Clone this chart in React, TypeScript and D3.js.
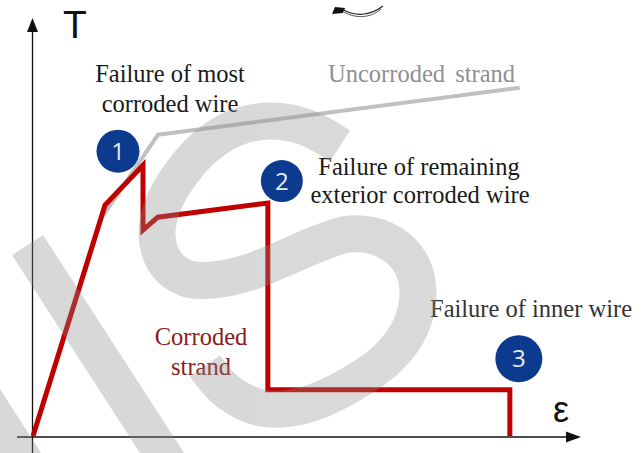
import React from "react";
import * as d3 from "d3";

const WIDTH = 643;
const HEIGHT = 453;

// strain (x) and tension (y) of the two curves, arbitrary units
const corrodedStrain = [0, 13.1, 20, 20, 22.7, 42.7, 42.7, 86.7, 86.7];
const corrodedTension = [0, 55.5, 65.1, 49.5, 52.6, 56, 11.1, 11.1, 0];
const uncorrodedStrain = [0, 12.5, 22.7, 88.5];
const uncorrodedTension = [0, 52.5, 72.4, 83.7];

// failure events, pinned to a vertex of the corroded curve
const eventLabels = ["1", "2", "3"];
const eventPoint = [2, 5, 7];
const eventShift = [[-25, -14], [14, -22], [9, -31]];
const eventRadius = [21.5, 21, 23.5];

// "IS" watermark strokes (pixel space, decoration only)
const wmI = [[27.5, 245], [175, 473]];
const wmPrev = [[-60, 330], [30, 470]];
const wmS = [
  [340, 146], [305, 127], [270, 121], [235, 128], [205, 147], [180, 175],
  [163, 205], [157, 235], [165, 262], [185, 278], [213, 280], [247, 273],
  [280, 260], [320, 243], [350, 234], [385, 240], [410, 262], [418, 292],
  [411, 326], [388, 358], [350, 385], [305, 405], [262, 408], [228, 392],
  [205, 366],
];

const serif = "'Times New Roman', 'Liberation Serif', serif";
const sans = "'Liberation Sans', Arial, sans-serif";

export default function App() {
  const x = d3.scaleLinear().domain([0, 100]).range([33, 583]);
  const y = d3.scaleLinear().domain([0, 100]).range([436, 20]);

  const corroded = corrodedStrain.map((s, i) => [s, corrodedTension[i]]);
  const uncorroded = uncorrodedStrain.map((s, i) => [s, uncorrodedTension[i]]);

  const line = d3
    .line<number[]>()
    .x((d) => x(d[0]))
    .y((d) => y(d[1]));

  const wmLine = d3.line().curve(d3.curveCatmullRom.alpha(0.5));

  const ox = 32.5;
  const oy = 437;

  return (
    <svg
      width={WIDTH}
      height={HEIGHT}
      style={{ position: "absolute", left: 0, top: 0, background: "#fff" }}
    >
      {/* cropped fragment at the top edge */}
      <path d="M332,14 L335,7 L345,8 L343,13 Z" fill="#111" />
      <path d="M342,9 C355,17 370,16 383,6" fill="none" stroke="#222" strokeWidth="1.2" />
      <path d="M344,12 C356,19 371,18 381,9" fill="none" stroke="#444" strokeWidth="0.9" />

      {/* axes */}
      <line x1={ox} y1={HEIGHT} x2={ox} y2={28} stroke="#111" strokeWidth="1.3" />
      <path d={`M${ox},18 L${ox - 5.5},32 L${ox + 5.5},32 Z`} fill="#111" />
      <line x1={17} y1={oy} x2={571} y2={oy} stroke="#111" strokeWidth="1.3" />
      <path d={`M581,${oy} L566,${oy - 5.5} L566,${oy + 5.5} Z`} fill="#111" />
      <text x={63} y={38} fontFamily={sans} fontSize="39" fill="#111">T</text>
      <text x={561} y={422} textAnchor="middle" fontFamily={sans} fontSize="36" fill="#111">ε</text>

      {/* curves */}
      <path d={line(uncorroded) || ""} fill="none" stroke="#c0c0c0" strokeWidth="4" strokeLinejoin="round" />
      <path d={line(corroded) || ""} fill="none" stroke="#c00000" strokeWidth="5" strokeLinejoin="miter" />

      {/* labels */}
      <g fontFamily={serif} fontSize="24.5" fill="#1a1a1a" textAnchor="middle">
        <text x={170} y={82}>Failure of most</text>
        <text x={170} y={112}>corroded wire</text>
        <text x={419} y={175}>Failure of remaining</text>
        <text x={420} y={203}>exterior corroded wire</text>
      </g>
      <text x={328} y={82} fontFamily={serif} fontSize="24.5" fill="#8f8f8f" wordSpacing="4">
        Uncorroded strand
      </text>
      <text x={430} y={317} fontFamily={serif} fontSize="24.5" fill="#333">
        Failure of inner wire
      </text>
      <g fontFamily={serif} fontSize="24.5" fill="#8b1a1a" textAnchor="middle">
        <text x={201} y={345}>Corroded</text>
        <text x={201} y={375}>strand</text>
      </g>

      {/* event markers */}
      {eventLabels.map((lab, i) => {
        const p = corroded[eventPoint[i]];
        const cx = x(p[0]) + eventShift[i][0];
        const cy = y(p[1]) + eventShift[i][1];
        return (
          <g key={lab}>
            <circle cx={cx} cy={cy} r={eventRadius[i]} fill="#0b3a8f" />
            <text
              x={cx}
              y={cy + 8.5}
              textAnchor="middle"
              fontFamily="'Open Sans', 'Noto Sans', sans-serif"
              fontSize="24"
              fill="#e6ecf5"
            >
              {lab}
            </text>
          </g>
        );
      })}

      {/* watermark */}
      <g opacity="0.33" fill="none" stroke="#8c8c8c" strokeWidth="37" strokeLinecap="butt">
        <path d={wmLine(wmI as [number, number][]) || ""} />
        <path d={wmLine(wmPrev as [number, number][]) || ""} />
        <path d={wmLine(wmS as [number, number][]) || ""} />
      </g>
    </svg>
  );
}
